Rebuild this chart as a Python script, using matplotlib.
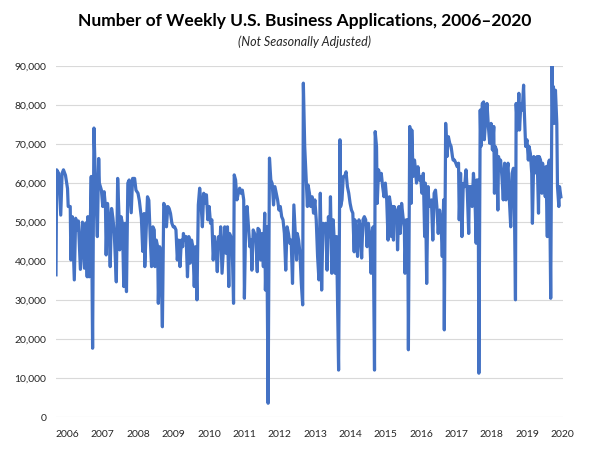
#!/usr/bin/env python
# -*- coding: utf-8 -*-

import numpy as np
import pandas as pd
import matplotlib
matplotlib.use('Agg')
import matplotlib.pyplot as plt
from matplotlib.ticker import FuncFormatter

# week number counted from the first week of 2006
weeks = [
    0, 1, 4, 7, 9, 11, 14, 17, 18, 21, 22, 24, 27, 29, 31, 33, 36, 39, 42, 44,
    46, 47, 49, 52, 54, 56, 58, 61, 63, 64, 67, 69, 71, 73, 74, 76, 78, 80, 82, 84,
    86, 89, 91, 93, 94, 96, 98, 100, 102, 104, 106, 108, 111, 113, 116, 118, 121, 123,
    126, 128, 130, 131, 135, 137, 139, 141, 143, 145, 146, 148, 150, 151, 153, 155, 157,
    159, 161, 163, 165, 167, 169, 171, 173, 175, 177, 179, 181, 183, 185, 187, 188, 190,
    192, 194, 196, 198, 200, 202, 204, 206, 208, 210, 212, 214, 216, 218, 220, 222, 224,
    226, 228, 230, 232, 234, 236, 238, 240, 242, 243, 245,
    249, 251, 253, 255, 256, 258, 260, 262, 263, 265, 267, 269, 271, 273, 275, 277, 278,
    280, 282, 284, 286, 288, 289, 291, 293, 295, 297, 298, 300, 302, 304, 306, 308, 309,
    311, 313, 315, 317, 319, 321, 323, 325, 327, 329, 331, 333, 335, 337, 339, 341, 343,
    345, 347, 349, 351, 353, 355, 356, 358, 360, 362, 364, 365, 367,
    371, 372, 374, 376, 378, 380, 382, 384, 386, 388, 390, 392, 394, 396, 398, 400, 402,
    404, 405, 407, 409, 411, 412, 414, 417, 419, 420, 422, 424, 426, 428, 430, 432, 434,
    436, 438, 440, 441, 443, 445, 447, 449, 451, 453, 455, 457, 459, 461, 463, 465, 467,
    468, 470, 471, 473, 474, 476, 478, 480, 482, 484, 486, 488, 490, 492, 494,
    495, 496, 498, 499, 501, 503, 504, 506, 508, 510, 512, 514, 515, 517, 519, 520, 522,
    524, 525, 527, 529, 530, 532, 534, 536, 538, 540, 542, 544, 545, 547, 549, 550, 552,
    554, 556, 558, 560, 562, 564, 566, 568, 570, 572, 573, 575, 577, 579, 581, 583, 585,
    586, 588, 590, 592, 594, 595, 597, 599, 601, 603, 605, 607, 609, 610, 612, 614, 616,
    618, 620, 621, 623, 624, 626, 627, 629, 631, 632, 634, 636, 638, 640, 642, 644, 646,
    647, 648, 650, 652, 653, 655, 656, 658, 660, 662, 664, 665, 667, 669, 671, 673, 675,
    676, 678, 679, 681, 683, 684, 686, 688, 690, 691, 693, 695, 697, 698, 700, 702, 703,
    705, 706, 708, 710, 712, 713, 715, 717, 718, 720, 722, 723, 725, 726, 728, 730, 732,
    733, 734, 736, 737, 739, 740, 742, 743, 745,
]

# applications, thousands
apps_k = [
    36.5, 63.4, 62.5, 51.8, 62.5, 63.4, 62.0, 58.6, 54.0, 54.0, 40.3, 51.4, 35.2, 51.0, 48.0, 50.3, 37.9, 50.0, 38.2, 49.8,
    36.0, 51.4, 36.0, 61.7, 17.7, 74.1, 61.7, 46.3, 66.3, 60.0, 58.2, 54.0, 57.8, 54.0, 41.6, 54.8, 50.6, 38.6, 53.5, 51.0,
    47.1, 34.7, 61.2, 51.4, 42.9, 51.4, 49.7, 33.5, 49.7, 32.2, 60.0, 60.8, 52.4, 61.2, 61.2, 58.2, 57.4, 55.5,
    51.0, 42.5, 52.2, 38.6, 56.5, 55.6, 46.3, 38.6, 48.8, 48.0, 38.6, 45.4, 43.7, 29.2, 43.7, 38.6, 23.2,
    54.8, 54.0, 48.8, 54.0, 53.5, 52.2, 49.7, 48.8, 48.8, 48.0, 40.3, 45.4, 38.6, 45.4, 43.7, 47.1, 45.4,
    46.3, 36.0, 46.3, 39.5, 45.4, 43.7, 33.5, 43.7, 30.1, 54.4, 58.7, 54.8, 48.8, 57.4, 54.8, 57.0, 50.6,
    54.0, 49.7, 50.6, 40.3, 46.3, 43.7, 37.3, 46.3, 44.6, 48.8, 36.9,
    48.8, 42.0, 48.8, 33.5, 47.1, 46.3, 43.7, 29.2, 62.1, 60.8, 55.7, 57.4, 58.7, 57.4, 58.2, 55.7, 30.5,
    50.6, 54.0, 48.8, 43.7, 45.4, 37.7, 48.0, 47.1, 45.4, 37.3, 48.4, 48.0, 40.3, 47.1, 38.6, 52.3, 32.6,
    48.8, 3.6, 66.4, 60.8, 59.9, 54.4, 59.1, 57.4, 55.7, 53.1, 54.0, 51.4, 50.6, 47.1, 37.7, 48.8, 47.1,
    44.6, 45.4, 34.3, 54.4, 47.1, 40.3, 47.1, 45.4, 42.0, 34.3, 28.8, 85.6, 69.4,
    54.0, 59.5, 57.4, 54.0, 56.5, 52.3, 55.7, 50.6, 41.2, 35.2, 57.4, 32.6, 49.7, 48.8, 49.7, 37.7, 51.4,
    46.3, 56.5, 36.9, 50.6, 43.7, 36.9, 46.3, 12.1, 71.1, 54.0, 55.7, 61.7, 61.7, 62.9, 59.1, 57.4, 54.8,
    53.1, 52.3, 42.4, 50.6, 48.0, 41.2, 50.6, 48.8, 40.8, 50.6, 51.4, 50.6, 43.7, 49.7, 46.3, 36.9, 48.0,
    48.8, 12.1, 73.2, 69.3, 54.8, 63.4, 60.8, 62.5, 59.1, 56.5, 60.0, 55.7, 45.4, 56.5, 54.0,
    46.3, 54.0, 45.4, 54.0, 53.1, 51.4, 42.9, 54.0, 47.1, 54.8, 51.4, 48.8, 36.9, 50.6, 50.6, 17.3, 74.5,
    54.8, 73.6, 61.7, 65.9, 64.2, 60.0, 64.2, 60.8, 61.7, 57.4, 62.5, 46.3, 60.0, 34.3, 59.1, 55.7, 54.0,
    55.7, 45.4, 57.4, 58.2, 54.0, 47.1, 53.1, 50.6, 41.2, 55.7, 22.4, 75.3, 66.8, 71.9, 70.2, 69.4, 66.8,
    65.9, 65.9, 65.1, 64.2, 65.1, 50.6, 62.5, 46.3, 59.9, 59.1, 63.4, 57.4, 47.1, 59.1, 59.1, 54.0, 62.5,
    57.4, 44.6, 60.8, 60.8, 11.3, 78.7, 69.4, 80.4, 80.8, 71.1, 76.2, 80.4, 74.5, 70.2, 75.3, 68.5, 74.5,
    57.4, 69.4, 68.5, 53.1, 66.8, 63.4, 65.9, 61.7, 55.7, 65.1, 55.7, 62.5, 65.1, 55.7, 48.8, 62.5, 63.8,
    60.8, 30.1, 80.4, 73.6, 83.0, 73.6, 80.4, 78.7, 85.1, 78.7, 69.4, 71.1, 65.9, 69.4, 67.6, 62.5, 49.7,
    66.8, 62.5, 63.4, 66.8, 52.3, 66.8, 65.9, 57.4, 65.1, 61.7, 56.5, 64.2, 46.3, 64.2, 65.9, 30.5, 90.0,
    75.3, 84.7, 75.3, 83.8, 75.3, 59.1, 54.0, 59.1, 56.5,
]

years = list(range(2006, 2021))
y_ticks = list(range(0, 90001, 10000))

TITLE = 'Number of Weekly U.S. Business Applications, 2006\u20132020'
SUBTITLE = '(Not Seasonally Adjusted)'


def main():
    plt.rcParams['font.family'] = ['Lato', 'DejaVu Sans']
    start = pd.Timestamp('2006-01-07')
    dates = start + pd.to_timedelta(np.array(weeks) * 7, unit='D')
    values = np.array(apps_k) * 1000

    fig = plt.figure(figsize=(6, 4.5), dpi=100)
    ax = fig.add_axes([56 / 600, 1 - 417.3 / 450, 507 / 600, (417.3 - 66) / 450])
    ax.plot(dates, values, color='#4472C4', lw=2.3, solid_joinstyle='round')

    ax.set_ylim(0, 90000)
    ax.set_yticks(y_ticks)
    ax.yaxis.set_major_formatter(FuncFormatter(lambda v, p: f'{int(v):,}'))
    ax.set_xlim(start, pd.Timestamp('2020-05-10'))
    ax.set_xticks([pd.Timestamp(f'{y}-05-06') for y in years])
    ax.set_xticklabels([str(y) for y in years])

    ax.grid(axis='y', color='#D9D9D9', lw=0.8)
    ax.set_axisbelow(True)
    for s in ax.spines.values():
        s.set_visible(False)
    ax.tick_params(length=0, labelsize=7.5, colors='#262626')
    ax.tick_params(axis='y', pad=7)
    ax.tick_params(axis='x', pad=9)

    fig.text(0.508, 1 - 21 / 450, TITLE, ha='center', va='center',
             fontsize=12.5, fontweight='bold', color='black')
    fig.text(0.508, 1 - 42 / 450, SUBTITLE, ha='center', va='center',
             fontsize=9, style='italic', color='#262626')

    fig.savefig('out.png', dpi=100)


if __name__ == '__main__':
    main()
